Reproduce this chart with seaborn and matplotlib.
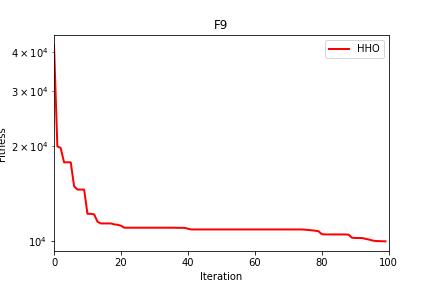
import matplotlib
matplotlib.use("Agg")
import matplotlib.pyplot as plt
import seaborn as sns
import pandas as pd

iterations = list(range(100))
fitness = [
    42000, 20000, 19770, 17800, 17800, 17800, 14940, 14580, 14580, 14580,
    12210, 12210, 12160, 11520, 11380, 11380, 11380, 11380, 11300, 11270,
    11190, 11030, 11030, 11030, 11030, 11030, 11030, 11030, 11030, 11030,
    11030, 11030, 11030, 11030, 11030, 11030, 11030, 11020, 11020, 11020,
    10950, 10890, 10890, 10890, 10890, 10890, 10890, 10890, 10890, 10890,
    10890, 10890, 10890, 10890, 10890, 10890, 10890, 10890, 10890, 10890,
    10890, 10890, 10890, 10890, 10890, 10890, 10890, 10890, 10890, 10890,
    10890, 10890, 10890, 10890, 10890, 10870, 10850, 10820, 10790, 10750,
    10520, 10500, 10500, 10500, 10500, 10500, 10500, 10500, 10480, 10250,
    10230, 10230, 10230, 10170, 10120, 10050, 10010, 10000, 9990, 9985,
]
series_name = "HHO"

df = pd.DataFrame({"Iteration": iterations, "Fitness": fitness, "Algorithm": series_name})

fig, ax = plt.subplots(figsize=(6, 4), dpi=72)
fig.subplots_adjust(left=0.125, right=0.9, top=0.878, bottom=0.128)
sns.lineplot(data=df, x="Iteration", y="Fitness", hue="Algorithm",
             palette=["red"], linewidth=2, ax=ax)
ax.set_yscale("log")
ax.set_xlim(0, 100)
ax.set_title("F9")
ax.set_xlabel("Iteration")
ax.set_ylabel("Fitness")
ax.legend(loc="upper right")
fig.savefig("out.png", dpi=72)
